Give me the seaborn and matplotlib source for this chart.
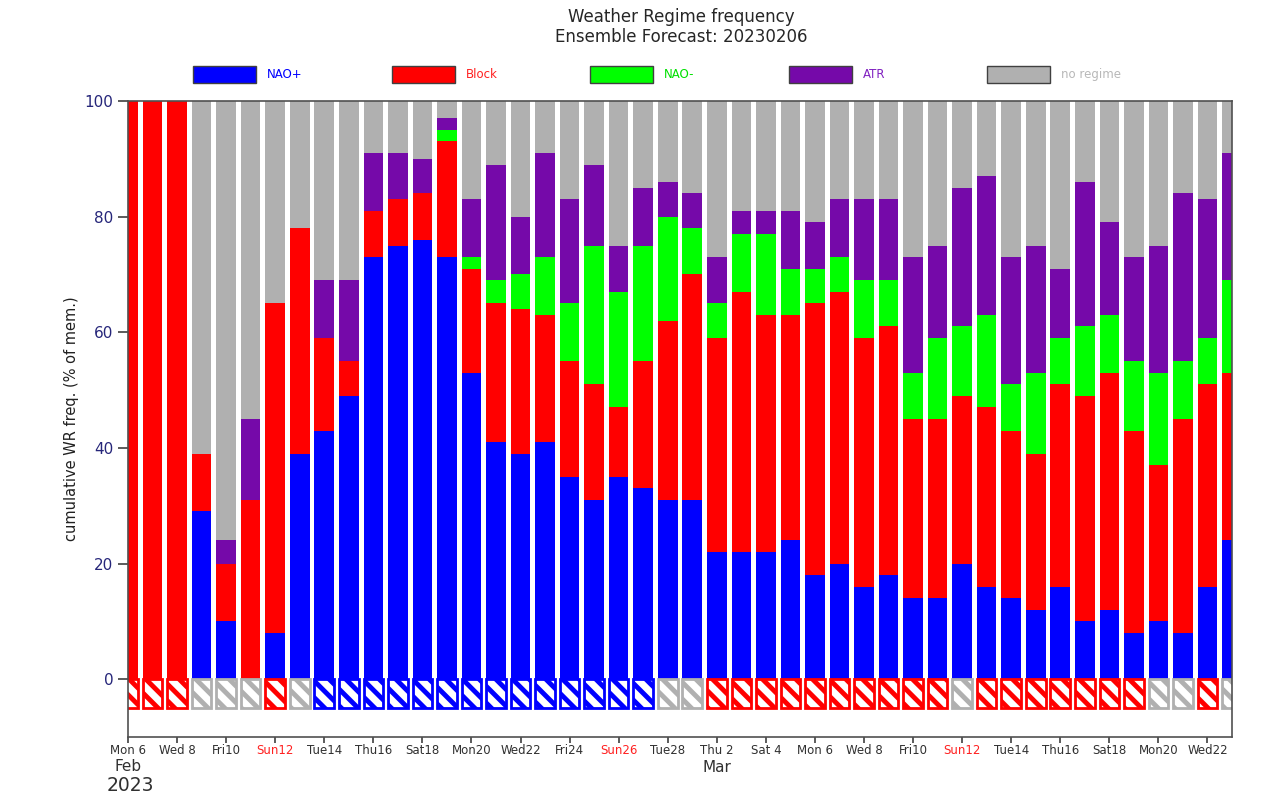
"""
Weather regime frequency chart: stacked ensemble member fractions per day.
"""

import matplotlib
matplotlib.use("Agg")  # no display
import matplotlib.pyplot as plt
import matplotlib.transforms as mtransforms
from matplotlib.patches import Rectangle
import numpy as np
import pandas as pd
import seaborn as sns

# --- data -------------------------------------------------------------------
start_date = "2023-02-06"
n_days = 46

# frequencies (% of members) per regime, one value per day
nao_plus = [0, 0, 0, 29, 10, 0, 8, 39, 43, 49, 73, 75, 76, 73, 53, 41, 39, 41, 35, 31, 35, 33, 31,
            31, 22, 22, 22, 24, 18, 20, 16, 18, 14, 14, 20, 16, 14, 12, 16, 10, 12, 8, 10, 8, 16, 24]
block = [100, 100, 100, 10, 10, 31, 57, 39, 16, 6, 8, 8, 8, 20, 18, 24, 25, 22, 20, 20, 12, 22, 31,
         39, 37, 45, 41, 39, 47, 47, 43, 43, 31, 31, 29, 31, 29, 27, 35, 39, 41, 35, 27, 37, 35, 29]
nao_minus = [0, 0, 0, 0, 0, 0, 0, 0, 0, 0, 0, 0, 0, 2, 2, 4, 6, 10, 10, 24, 20, 20, 18,
             8, 6, 10, 14, 8, 6, 6, 10, 8, 8, 14, 12, 16, 8, 14, 8, 12, 10, 12, 16, 10, 8, 16]
atr = [0, 0, 0, 0, 4, 14, 0, 0, 10, 14, 10, 8, 6, 2, 10, 20, 10, 18, 18, 14, 8, 10, 6,
       6, 8, 4, 4, 10, 8, 10, 14, 14, 20, 16, 24, 24, 22, 22, 12, 25, 16, 18, 22, 29, 24, 22]

# regime shown in the box under each bar
main_regime = (["Block"] * 3 + ["no regime"] * 3 + ["Block", "no regime"] + ["NAO+"] * 14
               + ["no regime"] * 2 + ["Block"] * 10 + ["no regime"] + ["Block"] * 7
               + ["no regime"] * 2 + ["Block", "no regime"])

regimes = ["NAO+", "Block", "NAO-", "ATR", "no regime"]
colors = {"NAO+": "#0000ff", "Block": "#ff0000", "NAO-": "#00ff00",
          "ATR": "#7509a9", "no regime": "#b0b0b0"}
text_colors = {"NAO+": "#0000ff", "Block": "#ff2020", "NAO-": "#00e000",
               "ATR": "#8020c0", "no regime": "#b8b8b8"}

dates = pd.date_range(start_date, periods=n_days, freq="D")
pos = np.arange(n_days)

# cumulative tops for the stacked bars
cum = np.cumsum(np.array([nao_plus, block, nao_minus, atr]), axis=0)
df = pd.DataFrame({
    "pos": pos,
    "NAO+": cum[0], "Block": cum[1], "NAO-": cum[2], "ATR": cum[3],
    "no regime": np.full(n_days, 100),
})

# --- plot -------------------------------------------------------------------
sns.set_style("white")
plt.rcParams["font.family"] = ["DejaVu Sans"]
plt.rcParams["hatch.linewidth"] = 3.5

W, H = 1280, 795
fig = plt.figure(figsize=(W / 100, H / 100), dpi=100)
ax = fig.add_axes([0.1, 0.073, 0.8625, 0.8])

# draw from the top layer down so lower layers cover the upper ones
for name in reversed(regimes):
    sns.barplot(data=df, x="pos", y=name, color=colors[name], saturation=1,
                width=0.8, errorbar=None, linewidth=0, ax=ax)

# hatched boxes below zero marking the leading regime
box_colors = [colors[r] for r in main_regime]
ax.bar(pos, np.full(n_days, -5.0), bottom=0, width=0.8, facecolor="white",
       edgecolor=box_colors, linewidth=2, hatch="\\\\")

ax.set_xlim(0, n_days - 1)
ax.set_ylim(-10, 100)
ax.set_xlabel("")
ax.set_ylabel("cumulative WR freq. (% of mem.)", fontsize=10.5, color="#202020")

ax.set_yticks([0, 20, 40, 60, 80, 100])
ax.tick_params(axis="y", left=True, labelsize=11, labelcolor="#26267a", color="#404040",
               length=7, width=1.2, direction="out")

tick_pos = pos[::2]
tick_labels = [f"{d:%a}{d.day:2d}" for d in dates[::2]]
ax.set_xticks(tick_pos)
ax.set_xticklabels(tick_labels, fontsize=8.5, color="#303030")
ax.tick_params(axis="x", bottom=True, length=4, width=1.2, color="#404040",
               direction="out", pad=1)
for lab, d in zip(ax.get_xticklabels(), dates[::2]):
    if d.dayofweek == 6:
        lab.set_color("#ff2020")

for side in ["top", "right", "left", "bottom"]:
    ax.spines[side].set_color("#505050")
    ax.spines[side].set_linewidth(1.2)

# month / year annotations under the date ticks
trans = mtransforms.blended_transform_factory(ax.transData, ax.transAxes)
ax.text(0, -0.046, "Feb", transform=trans, ha="center", va="center", fontsize=11, color="#303030")
mar_pos = int(np.where((dates.month == 3) & (dates.day == 2))[0][0])
ax.text(mar_pos, -0.048, "Mar", transform=trans, ha="center", va="center", fontsize=11, color="#303030")
ax.text(0.1, -0.077, "2023", transform=trans, ha="center", va="center", fontsize=13.5, color="#303030")

# title
fig.text(0.532, 1 - 27 / H, "Weather Regime frequency\nEnsemble Forecast: 20230206",
         ha="center", va="center", fontsize=12, linespacing=1.1)

# legend row above the axes: swatch + coloured label, evenly spaced
for i, r in enumerate(regimes):
    x0 = 193 + 198.5 * i
    fig.patches.append(Rectangle((x0 / W, 1 - 83 / H), 63 / W, 17 / H, transform=fig.transFigure,
                                 facecolor=colors[r], edgecolor="#404040", linewidth=1))
    fig.text((x0 + 74) / W, 1 - 74.5 / H, r, ha="left", va="center", fontsize=8.5,
             color=text_colors[r])

fig.savefig("out.png", dpi=100)
plt.close(fig)
